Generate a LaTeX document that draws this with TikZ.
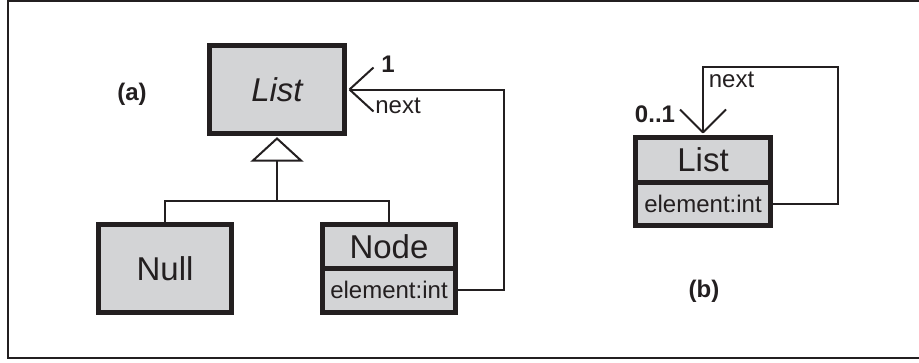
\documentclass[tikz,border=0pt]{standalone}
\usepackage{fontspec}
\usetikzlibrary{calc}
\setmainfont{Liberation Sans}
\definecolor{boxfill}{RGB}{211,212,214}
\definecolor{ink}{RGB}{35,31,32}
\tikzset{
  cls/.style={draw=ink, fill=boxfill, line width=5pt, inner sep=0pt, text=ink,
    minimum width=135pt, font=\fontsize{33}{36}\selectfont},
  attr/.style={cls, font=\fontsize{24}{26}\selectfont},
  conn/.style={draw=ink, line width=2pt},
  lbl/.style={text=ink, inner sep=0pt, anchor=base, font=\fontsize{24}{26}\selectfont},
  blbl/.style={lbl, font=\fontsize{24}{26}\selectfont\bfseries},
}
\begin{document}
\begin{tikzpicture}[x=1pt,y=-1pt]
\useasboundingbox (0,0) rectangle (919,362);
% frame
\draw[ink, line width=2pt] (930,1) -- (7.5,1) -- (7.5,357.5) -- (930,357.5);

% (a)
\node[cls, minimum height=88pt, font=\fontsize{33}{36}\selectfont\itshape] (lista) at (277,89.5) {List};
\node[cls, minimum width=133pt, minimum height=88pt] (nullbox) at (165,268.5) {Null};
\node[cls, minimum width=133pt, minimum height=43.5pt] (nodetop) at (389,246.25) {Node};
\node[attr, minimum width=133pt, minimum height=44.5pt] (nodebot) at (389,290.25) {element:int};

% inheritance
\coordinate (apex) at ([yshift=-2.5pt]lista.south);
\draw[conn, fill=white, line join=miter] (apex) -- ++(-24,22) coordinate (bl) -- ++(48,0) coordinate (br) -- cycle;
\coordinate (tribase) at ($(bl)!0.5!(br)$);
\coordinate (junc) at (277,201);
\draw[conn] (tribase) -- (junc);
\draw[conn] ([yshift=-2pt]nullbox.north) |- (junc) -| ([yshift=-2pt]nodetop.north);

% association next (a)
\coordinate (tipa) at ([xshift=2.5pt]lista.east);
\coordinate (ra) at (504,89.5);
\draw[conn] ([xshift=-2pt]nodebot.east) -| (ra) -- (tipa);
\draw[conn] (tipa) -- ++(24,-22);
\draw[conn] (tipa) -- ++(24,22);
\node[blbl] (one) at (388,72) {1};
\node[lbl] (nexta) at (398,113) {next};
\node[blbl] (la) at (132,100.5) {(a)};

% (b)
\node[cls, minimum height=44.5pt] (listbtop) at (703,159.75) {List};
\node[attr, minimum height=43.5pt] (listbbot) at (703,203.75) {element:int};
\coordinate (tipb) at ([yshift=2.5pt]listbtop.north);
\coordinate (rb) at (838,67);
\draw[conn] ([xshift=-2pt]listbbot.east) -| (rb) -| (tipb);
\draw[conn] (tipb) -- ++(-23,-23);
\draw[conn] (tipb) -- ++(23,-23);
\node[lbl] (nextb) at (731.5,87) {next};
\node[blbl] (mult) at (655,122) {0..1};
\node[blbl] (lb) at (704,297.5) {(b)};
\end{tikzpicture}
\end{document}
